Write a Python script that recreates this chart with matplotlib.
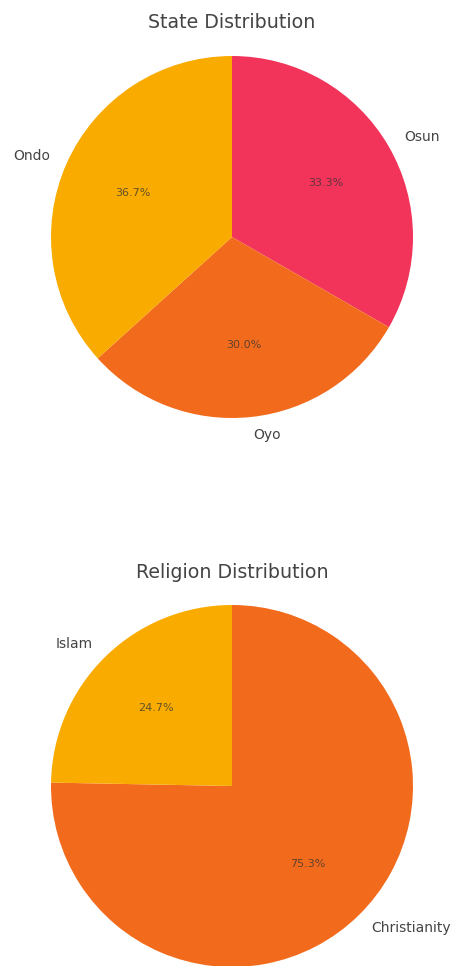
import matplotlib.pyplot as plt

# dados das duas tartes
state_labels = ["Osun", "Oyo", "Ondo"]
state_values = [33.3, 30.0, 36.7]
state_colors = ["#F2335A", "#F26B1D", "#F9AB00"]

religion_labels = ["Christianity", "Islam"]
religion_values = [75.3, 24.7]
religion_colors = ["#F26B1D", "#F9AB00"]

W, H = 454, 966
fig = plt.figure(figsize=(W / 100, H / 100), dpi=100)


def tarte(cx, cy, r, labels, values, colors, title, title_y):
    size = 2.5 * r
    ax = fig.add_axes([(cx - size / 2) / W, (H - cy - size / 2) / H, size / W, size / H])
    wedges, texts, autotexts = ax.pie(values, labels=labels, colors=colors, autopct="%1.1f%%",
                                      startangle=90, counterclock=False,
                                      textprops={"fontsize": 10, "color": "#444444"})
    for t in autotexts:
        t.set_fontsize(8)
        t.set_color("#333333")
        t.set_alpha(0.75)
    ax.set_xlim(-1.25, 1.25)
    ax.set_ylim(-1.25, 1.25)
    ax.set_aspect("equal")
    fig.text(cx / W, 1 - title_y / H, title, ha="center", va="center", fontsize=13.7, color="#444444")
    return ax


tarte(232, 237, 181, state_labels, state_values, state_colors, "State Distribution", 22)
tarte(232, 786, 181, religion_labels, religion_values, religion_colors, "Religion Distribution", 573)

fig.savefig("out.png", dpi=100)
